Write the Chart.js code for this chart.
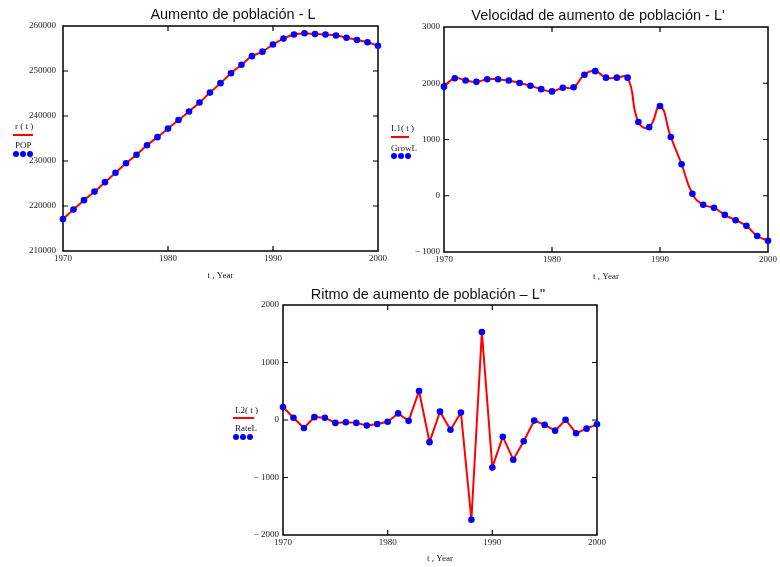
<!DOCTYPE html>
<html>
<head>
<meta charset="utf-8">
<script src="https://cdn.jsdelivr.net/npm/chart.js@4/dist/chart.umd.min.js"></script>
<style>
body { margin: 0; background: #fff; width: 780px; height: 567px; position: relative; overflow: hidden; }
canvas { position: absolute; }
.ttl { position: absolute; font: 14.5px "Liberation Sans", Arial, sans-serif; line-height: 17px; white-space: nowrap; transform: translateX(-50%); color: #111; }
.lab { position: absolute; font: 9px "Liberation Serif", "Times New Roman", serif; line-height: 10px; color: #222; white-space: nowrap; }
.rl { position: absolute; height: 2px; background: #ff0000; }
.dot { position: absolute; width: 6px; height: 6px; border-radius: 50%; background: #0000ff; }
</style>
</head>
<body>
<canvas id="c1" width="390" height="284" style="left:0;top:0"></canvas>
<canvas id="c2" width="390" height="285" style="left:390px;top:0"></canvas>
<canvas id="c3" width="400" height="287" style="left:210px;top:280px"></canvas>

<div class="ttl" style="left:233px;top:6px">Aumento de población - L</div>
<div class="ttl" style="left:598px;top:7px">Velocidad de aumento de población - L'</div>
<div class="ttl" style="left:428px;top:286px">Ritmo de aumento de población – L''</div>

<!-- legends, Mathcad style -->
<div class="lab" style="left:15px;top:121px">r ( t )</div>
<div class="rl" style="left:13px;top:134px;width:20px"></div>
<div class="lab" style="left:15px;top:140px">POP</div>
<div class="dot" style="left:13px;top:151px"></div>
<div class="dot" style="left:20px;top:151px"></div>
<div class="dot" style="left:27px;top:151px"></div>

<div class="lab" style="left:391px;top:123px">L1( t )</div>
<div class="rl" style="left:391px;top:136px;width:18px"></div>
<div class="lab" style="left:391px;top:143px">GrowL</div>
<div class="dot" style="left:391px;top:153px"></div>
<div class="dot" style="left:398px;top:153px"></div>
<div class="dot" style="left:405px;top:153px"></div>

<div class="lab" style="left:235px;top:405px">L2( t )</div>
<div class="rl" style="left:233px;top:417px;width:21px"></div>
<div class="lab" style="left:235px;top:423px">RateL</div>
<div class="dot" style="left:233px;top:434px"></div>
<div class="dot" style="left:240px;top:434px"></div>
<div class="dot" style="left:247px;top:434px"></div>

<script>
const years = [1970, 1971, 1972, 1973, 1974, 1975, 1976, 1977, 1978, 1979,
  1980, 1981, 1982, 1983, 1984, 1985, 1986, 1987, 1988, 1989,
  1990, 1991, 1992, 1993, 1994, 1995, 1996, 1997, 1998, 1999, 2000];
const pop = [217100, 219200, 221300, 223200, 225300, 227400, 229500, 231400, 233500, 235300,
  237200, 239100, 241000, 243000, 245200, 247300, 249500, 251400, 253300, 254300,
  255900, 257200, 258100, 258400, 258200, 258100, 257900, 257400, 256900, 256400, 255600];
const growL = [1940, 2090, 2050, 2025, 2070, 2070, 2050, 2005, 1955, 1895,
  1855, 1920, 1930, 2150, 2215, 2100, 2100, 2100, 1310, 1220,
  1595, 1045, 560, 35, -160, -215, -340, -435, -535, -715, -800];
const rateL = [225, 40, -140, 50, 40, -50, -40, -50, -95, -70,
  -30, 115, -15, 505, -385, 145, -170, 130, -1735, 1530,
  -825, -290, -690, -370, -10, -85, -185, 5, -230, -150, -75];
const yearTicks = [1970, 1980, 1990, 2000];
const popTicks = [210000, 220000, 230000, 240000, 250000, 260000];
const growTicks = [-1000, 0, 1000, 2000, 3000];
const rateTicks = [-2000, -1000, 0, 1000, 2000];

const tickFont = {family: '"Liberation Serif", "Times New Roman", serif', size: 9};
const tickColor = '#222';

// black box round the plot, with short inward tick marks on all four sides
const frame = {
  id: 'frame',
  beforeDatasetsDraw(chart) {
    const {ctx, chartArea: a, scales: {x, y}} = chart;
    ctx.save();
    ctx.strokeStyle = '#000';
    ctx.lineWidth = 1.5;
    ctx.strokeRect(a.left, a.top, a.width, a.height);
    ctx.lineWidth = 1.2;
    ctx.beginPath();
    y.ticks.forEach(t => {
      const p = y.getPixelForValue(t.value);
      if (p > a.top + 1 && p < a.bottom - 1) {
        ctx.moveTo(a.left, p); ctx.lineTo(a.left + 5, p);
        ctx.moveTo(a.right, p); ctx.lineTo(a.right - 5, p);
      }
    });
    x.ticks.forEach(t => {
      const p = x.getPixelForValue(t.value);
      if (p > a.left + 1 && p < a.right - 1) {
        ctx.moveTo(p, a.bottom); ctx.lineTo(p, a.bottom - 5);
        ctx.moveTo(p, a.top); ctx.lineTo(p, a.top + 5);
      }
    });
    ctx.stroke();
    ctx.restore();
  }
};

function fmt(v) {
  return v < 0 ? '\u2212 ' + Math.abs(v) : String(v);
}

function makeChart(id, values, yTicks, o) {
  const pts = years.map((yr, i) => ({x: yr, y: values[i]}));
  return new Chart(document.getElementById(id), {
    type: 'scatter',
    data: {
      datasets: [
        {data: pts, showLine: false, pointRadius: 3.3, pointBackgroundColor: '#0000ff',
          pointBorderWidth: 0, clip: false},
        {data: pts, showLine: true, pointRadius: 0, borderColor: '#ff0000', borderWidth: 2,
          tension: o.tension, clip: false}
      ]
    },
    options: {
      responsive: false,
      animation: false,
      events: [],
      layout: {padding: {top: o.top, right: o.right, left: 0, bottom: 0}},
      plugins: {legend: {display: false}, tooltip: {enabled: false}},
      scales: {
        x: {
          type: 'linear', min: 1970, max: 2000,
          afterBuildTicks: s => { s.ticks = yearTicks.map(v => ({value: v})); },
          afterFit: s => { s.height = o.xh; },
          grid: {display: false, drawTicks: false}, border: {display: false},
          ticks: {font: tickFont, color: tickColor, padding: 2, maxRotation: 0, autoSkip: false,
            callback: fmt},
          title: {display: true, text: 't , Year', font: tickFont, color: tickColor,
            padding: {top: 0, bottom: 3}}
        },
        y: {
          min: yTicks[0], max: yTicks[yTicks.length - 1],
          afterBuildTicks: s => { s.ticks = yTicks.map(v => ({value: v})); },
          afterFit: s => { s.width = o.yw; },
          grid: {display: false, drawTicks: false}, border: {display: false},
          ticks: {font: tickFont, color: tickColor, padding: o.pad, autoSkip: false, callback: fmt}
        }
      }
    },
    plugins: [frame]
  });
}

makeChart('c1', pop, popTicks, {top: 26, right: 12, xh: 33, yw: 63, pad: 7, tension: 0.4});
makeChart('c2', growL, growTicks, {top: 27, right: 12, xh: 33, yw: 54, pad: 4, tension: 0.5});
makeChart('c3', rateL, rateTicks, {top: 25, right: 13, xh: 32, yw: 73, pad: 4, tension: 0});
</script>
</body>
</html>
